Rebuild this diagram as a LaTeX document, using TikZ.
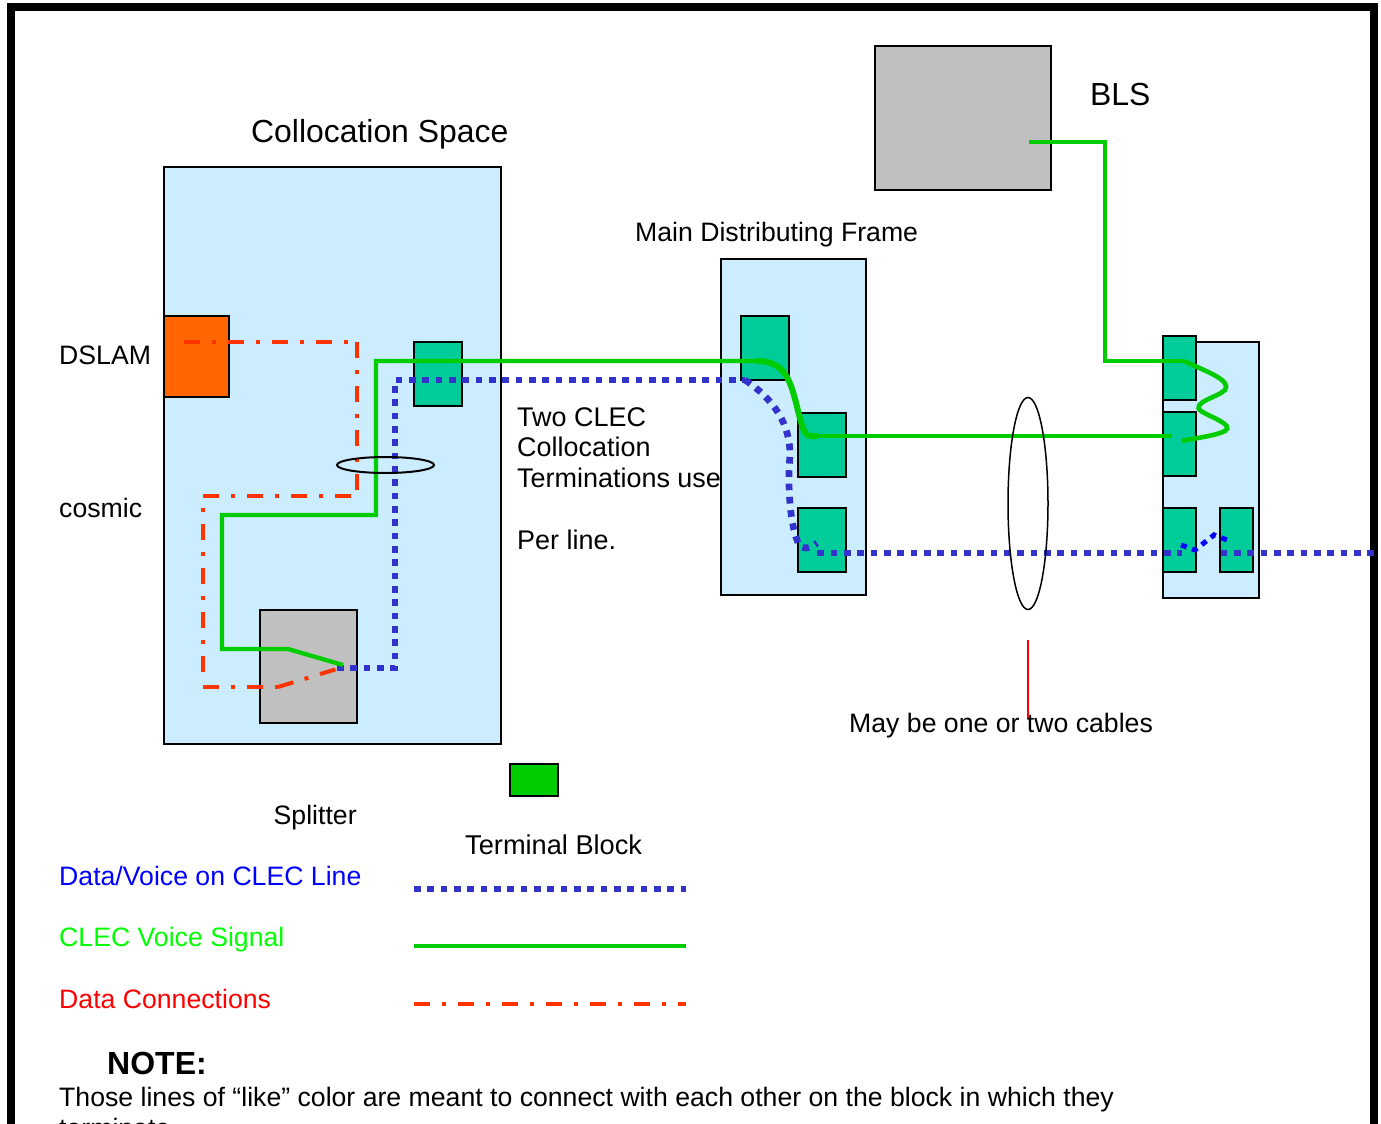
\documentclass[tikz,border=0pt]{standalone}
\usepackage{fontspec}
\setmainfont{Liberation Sans}
\usetikzlibrary{positioning,shapes.geometric}
\definecolor{spacefill}{RGB}{204,236,255}
\definecolor{blockteal}{RGB}{0,204,153}
\definecolor{blockgreen}{RGB}{0,204,0}
\definecolor{dslamorange}{RGB}{255,102,0}
\definecolor{splittergray}{RGB}{192,192,192}
\definecolor{wireblue}{RGB}{51,51,204}
\definecolor{wiregreen}{RGB}{0,204,0}
\definecolor{wirered}{RGB}{255,51,0}

\begin{document}
\begin{tikzpicture}[
        x=1pt, y=-1pt,
        box/.style={draw=black, line width=2pt, inner sep=0pt, outer sep=0pt},
        tblock/.style={box, fill=blockteal, minimum width=48pt, minimum height=64pt},
        nblock/.style={box, fill=blockteal, minimum width=33pt, minimum height=64pt},
        label/.style={anchor=base west, inner sep=0pt, font=\fontsize{26.65}{30.75}\selectfont},
        biglabel/.style={anchor=base west, inner sep=0pt, font=\fontsize{31.9}{37}\selectfont},
        voice/.style={draw=wiregreen, line width=4.3pt, line join=miter},
        datavoice/.style={draw=wireblue, line width=6.7pt, dash pattern=on 6.7pt off 6.63pt},
        dataline/.style={draw=wirered, line width=4pt, dash pattern=on 16pt off 11.7pt on 4pt off 12.3pt}
    ]
        \path[use as bounding box, clip] (0,0) rectangle (1381,1124);
        \fill[white] (0,0) rectangle (1381,1124);
        \draw[line width=8pt] (11,1200) -- (11,7) -- (1374,7) -- (1374,1200);

        % boxes
        \node[box, fill=spacefill, minimum width=337pt, minimum height=577pt] (space) at (332.5,455.5) {};
        \node[box, fill=spacefill, minimum width=145pt, minimum height=336pt] (mdf) at (793.5,427) {};
        \node[box, fill=spacefill, minimum width=96pt, minimum height=256pt] (far) at (1211,470) {};
        \node[box, fill=splittergray, minimum width=176pt, minimum height=144pt] (bls) at (963,118) {};
        \node[box, fill=dslamorange, minimum width=65pt, minimum height=81pt] (dslam) at (196.5,356.5) {};
        \node[box, fill=splittergray, minimum width=97pt, minimum height=113pt] (splitter) at (308.5,666.5) {};
        \node[tblock] (t1) at (438,374) {};
        \node[tblock] (m1) at (764.5,348) {};
        \node[tblock] (m2) at (822,444.5) {};
        \node[tblock] (m3) at (822,540) {};
        \node[nblock] (r1) at (1179.5,367.5) {};
        \node[nblock] (r2) at (1179.5,444) {};
        \node[nblock] (r3) at (1179.5,540) {};
        \node[nblock] (r4) at (1236.5,540) {};
        \node[box, fill=blockgreen, minimum width=48pt, minimum height=32pt] (key) at (534,780) {};

        % wire points
        \coordinate (blsout) at (1029,142);
        \coordinate (blsturn) at (1105,142);
        \coordinate (r1in) at (1105,361);
        \coordinate (r1hook) at (1184,361);
        \coordinate (r2hook) at (1182,441);
        \coordinate (r2in) at (1172,436);
        \coordinate (m2out) at (817,436);
        \coordinate (m1in) at (757,361);
        \coordinate (upper) at (376,361);
        \coordinate (lower) at (376,515);
        \coordinate (leftup) at (222,515);
        \coordinate (leftdown) at (222,649);
        \coordinate (spl) at (288,649);
        \coordinate (splin) at (343,665);
        \coordinate (edge) at (1381,553);
        \coordinate (m3out) at (817.3,553);
        \coordinate (m1blue) at (745,380);
        \coordinate (bluetop) at (395,380);
        \coordinate (bluelow) at (395,668);
        \coordinate (splblue) at (337,668);
        \coordinate (r3stop) at (1182,553);
        \coordinate (r4start) at (1220.7,553);
        \coordinate (d1) at (184,342);
        \coordinate (d2) at (348,342);
        \coordinate (d3) at (357,342);
        \coordinate (d4) at (357,490);
        \coordinate (d5) at (351,496);
        \coordinate (d6) at (203,496);
        \coordinate (d7) at (203,680);
        \coordinate (d8) at (203,687);
        \coordinate (d9) at (278,687);
        \coordinate (d10) at (340,668);

        % data lines
        \draw[dataline] (d1) -- (d2);
        \draw[dataline] (d3) -- (d4);
        \draw[dataline] (d5) -- (d6) -- (d7);
        \draw[dataline] (d8) -- (d9);
        \draw[dataline] (d9) -- (d10);

        % data/voice lines
        \draw[datavoice] (splblue) -- (bluelow) -- (bluetop) -- (m1blue);
        \draw[datavoice] (m1blue) .. controls (775,400) and (790,425) .. (790,455) .. controls (787,490) and (791,525) .. (797,540) .. controls (800,550) and (808,550) .. (817,543);
        \draw[datavoice] (r4start) -- (edge);
        \draw[datavoice] (m3out) -- (r3stop);
        \draw[draw=blue, line width=5pt, dash pattern=on 6pt off 5.7pt] (1181,545) -- (1195,550) -- (1214,535) -- (1227,540);

        % voice lines
        \draw[voice] (blsout) -- (blsturn) -- (r1in) -- (r1hook);
        \draw[voice] (r2in) -- (m2out);
        \draw[voice] (m1in) -- (upper) -- (lower) -- (leftup) -- (leftdown) -- (spl) -- (splin);
        \draw[voice, line width=6pt] (m1in) .. controls (778,361) and (787,372) .. (793,392) .. controls (800,415) and (802,437) .. (811,436) -- (m2out);
        \draw[voice, line width=4.6pt] (r1hook) .. controls (1205,371) and (1232,380) .. (1225,390) .. controls (1218,397) and (1190,403) .. (1201,411) .. controls (1210,417) and (1235,425) .. (1225,431) .. controls (1215,436) and (1195,438) .. (r2hook);

        % cables
        \node[draw, line width=2pt, ellipse, inner sep=0pt, minimum width=97pt, minimum height=16pt] (bundle) at (385.5,465) {};
        \node[draw, line width=1.5pt, ellipse, inner sep=0pt, minimum width=40pt, minimum height=212pt] (cables) at (1028,503.5) {};
        \coordinate (cablenote) at (1028,718);
        \coordinate (cabletop) at (1028,640);
        \draw[red, line width=1.5pt] (cabletop) -- (cablenote);

        % labels
        \node[biglabel] (blslabel) at (1090,105) {BLS};
        \node[biglabel] (spacelabel) at (251,142) {Collocation Space};
        \node[label] (mdflabel) at (635,241) {Main Distributing Frame};
        \node[label] (dslamlabel) at (59,364) {DSLAM};
        \node[label] (cosmiclabel) at (59,517) {cosmic};
        \node[label, anchor=north west, align=left, font=\fontsize{26.95}{30.75}\selectfont] (twolabel) at (517,407) {Two CLEC\\Collocation\\Terminations use\\[30.75pt]Per line.};
        \node[label] (splitterlabel) at (273.5,824) {Splitter};
        \node[label, font=\fontsize{27.2}{31}\selectfont] (blocklabel) at (465,854) {Terminal Block};
        \node[label] (cableslabel) at (849,732) {May be one or two cables};

        % legend
        \node[label, text=blue] (bluekey) at (59,885) {Data/Voice on CLEC Line};
        \node[label, text=green] (greenkey) at (59,946) {CLEC Voice Signal};
        \node[label, text=red] (redkey) at (59,1008) {Data Connections};
        \coordinate (k1a) at (414,889);
        \coordinate (k1b) at (686,889);
        \coordinate (k2a) at (414,946);
        \coordinate (k2b) at (686,946);
        \coordinate (k3a) at (414,1004);
        \coordinate (k3b) at (686,1004);
        \draw[datavoice] (k1a) -- (k1b);
        \draw[voice] (k2a) -- (k2b);
        \draw[dataline] (k3a) -- (k3b);

        % note
        \node[biglabel, font=\fontsize{32}{37}\selectfont\bfseries] (notehead) at (107,1074) {NOTE:};
        \node[label] (noteone) at (59,1106) {Those lines of “like” color are meant to connect with each other on the block in which they};
        \node[label] (notetwo) at (59,1137) {terminate.};
    \end{tikzpicture}
\end{document}
